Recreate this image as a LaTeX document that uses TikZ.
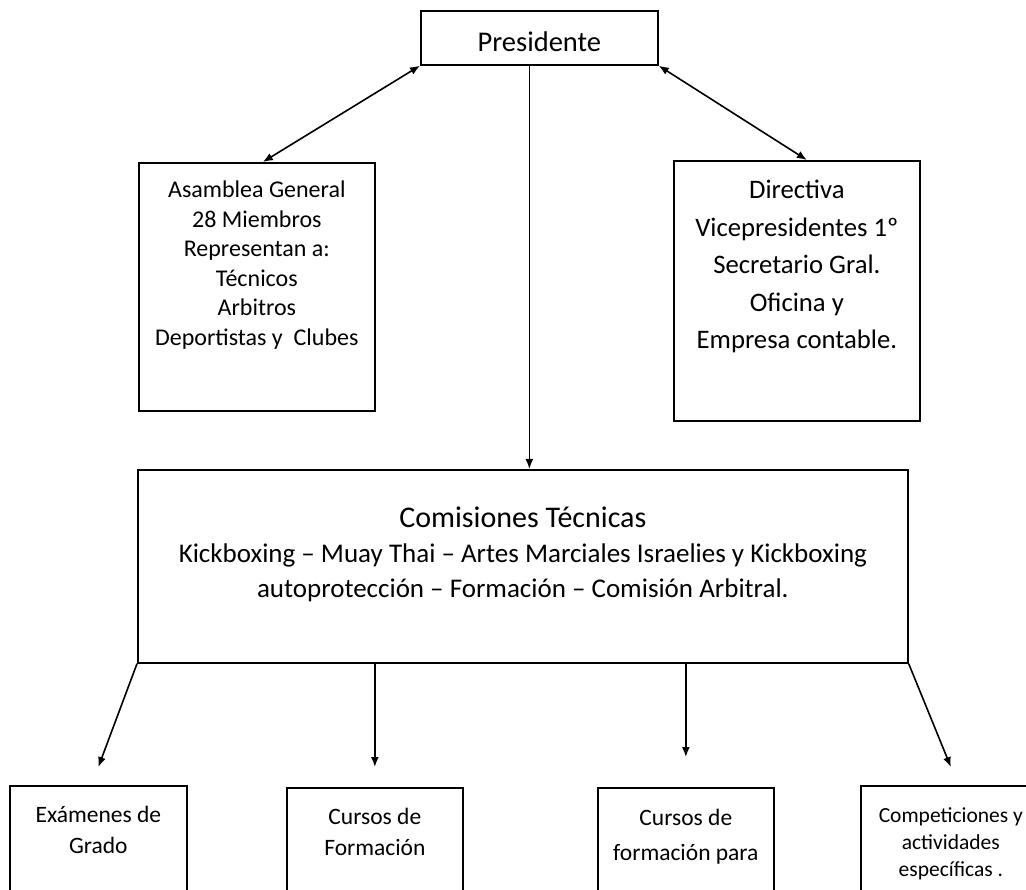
\documentclass[tikz,border=0pt]{standalone}
\usepackage{fontspec}
\setmainfont{Carlito}
\usetikzlibrary{arrows.meta}
\begin{document}
\begin{tikzpicture}[x=1pt, y=-1pt,
	caja/.style = {shape=rectangle, draw, line width=1.7pt, anchor=north west, inner sep=0pt},
	texto/.style = {align=center, anchor=north, inner sep=0pt},
	flecha/.style = {-{Latex[length=10pt,width=8pt]}, line width=1.6pt},
	doble/.style = {{Latex[length=10pt,width=8pt]}-{Latex[length=10pt,width=8pt]}, line width=1.6pt}]
	\clip (0,0) rectangle (1026,890);
	% presidente y los dos organos de arriba
	\node[caja, minimum width=237pt, minimum height=54pt] (presidente) at (420,10) {};
	\node[font=\fontsize{28.5}{34}\selectfont, inner sep=0pt] (presidentetxt) at ([yshift=-4pt]presidente.center) {Presidente};
	\node[caja, minimum width=236pt, minimum height=248pt] (asamblea) at (138,162) {};
	\node[caja, minimum width=246pt, minimum height=260pt] (directiva) at (673,160) {};
	\node[texto, font=\fontsize{24}{29.5}\selectfont] (asambleatxt) at ([yshift=-19pt]asamblea.north)
		{Asamblea General\\28 Miembros\\Representan a:\\Técnicos\\Arbitros\\Deportistas y~ Clubes};
	\node[texto, font=\fontsize{26.7}{37.5}\selectfont] (directivatxt) at ([yshift=-20pt]directiva.north)
		{Directiva\\Vicepresidentes 1º\\Secretario Gral.\\Oficina y\\Empresa contable.};
	% comisiones
	\node[caja, minimum width=770pt, minimum height=193pt] (comisiones) at (137,469) {};
	\node[texto, font=\fontsize{27}{35}\selectfont] (comisionestxt) at ([yshift=-38pt]comisiones.north)
		{{\fontsize{30}{35}\selectfont Comisiones Técnicas}\\Kickboxing – Muay Thai – Artes Marciales Israelies y Kickboxing\\autoprotección – Formación – Comisión Arbitral.};
	% fila de abajo
	\node[caja, minimum width=177pt, minimum height=130pt] (examenes) at (9,785) {};
	\node[caja, minimum width=176pt, minimum height=130pt] (cursos) at (286,787) {};
	\node[caja, minimum width=176pt, minimum height=130pt] (cursospara) at (597,787) {};
	\node[caja, minimum width=180pt, minimum height=130pt] (competiciones) at (860,785) {};
	\node[texto, font=\fontsize{23.5}{31}\selectfont] (examenestxt) at ([yshift=-21pt]examenes.north) {Exámenes de\\Grado};
	\node[texto, font=\fontsize{23.5}{31}\selectfont] (cursostxt) at ([yshift=-21pt]cursos.north) {Cursos de\\Formación};
	\node[texto, font=\fontsize{23.5}{35}\selectfont] (cursosparatxt) at ([yshift=-22pt]cursospara.north) {Cursos de\\formación para};
	\node[texto, font=\fontsize{21.5}{27}\selectfont] (competicionestxt) at ([yshift=-22pt]competiciones.north) {Competiciones y\\actividades\\específicas .};
	% flechas
	\draw[doble] (presidente.south west) -- ([xshift=6pt]asamblea.north);
	\draw[doble] (presidente.south east) -- ([xshift=10pt]directiva.north);
	\draw[flecha] ([xshift=-10pt]presidente.south) -- ([xshift=-10pt]presidente.south |- comisiones.north);
	\draw[flecha] (comisiones.south west) -- ([yshift=18pt]examenes.north);
	\draw[flecha] (cursos.north |- comisiones.south) -- ([yshift=20pt]cursos.north);
	\draw[flecha] (cursospara.north |- comisiones.south) -- ([yshift=30pt]cursospara.north);
	\draw[flecha] (comisiones.south east) -- ([yshift=18pt]competiciones.north);
\end{tikzpicture}
\end{document}
